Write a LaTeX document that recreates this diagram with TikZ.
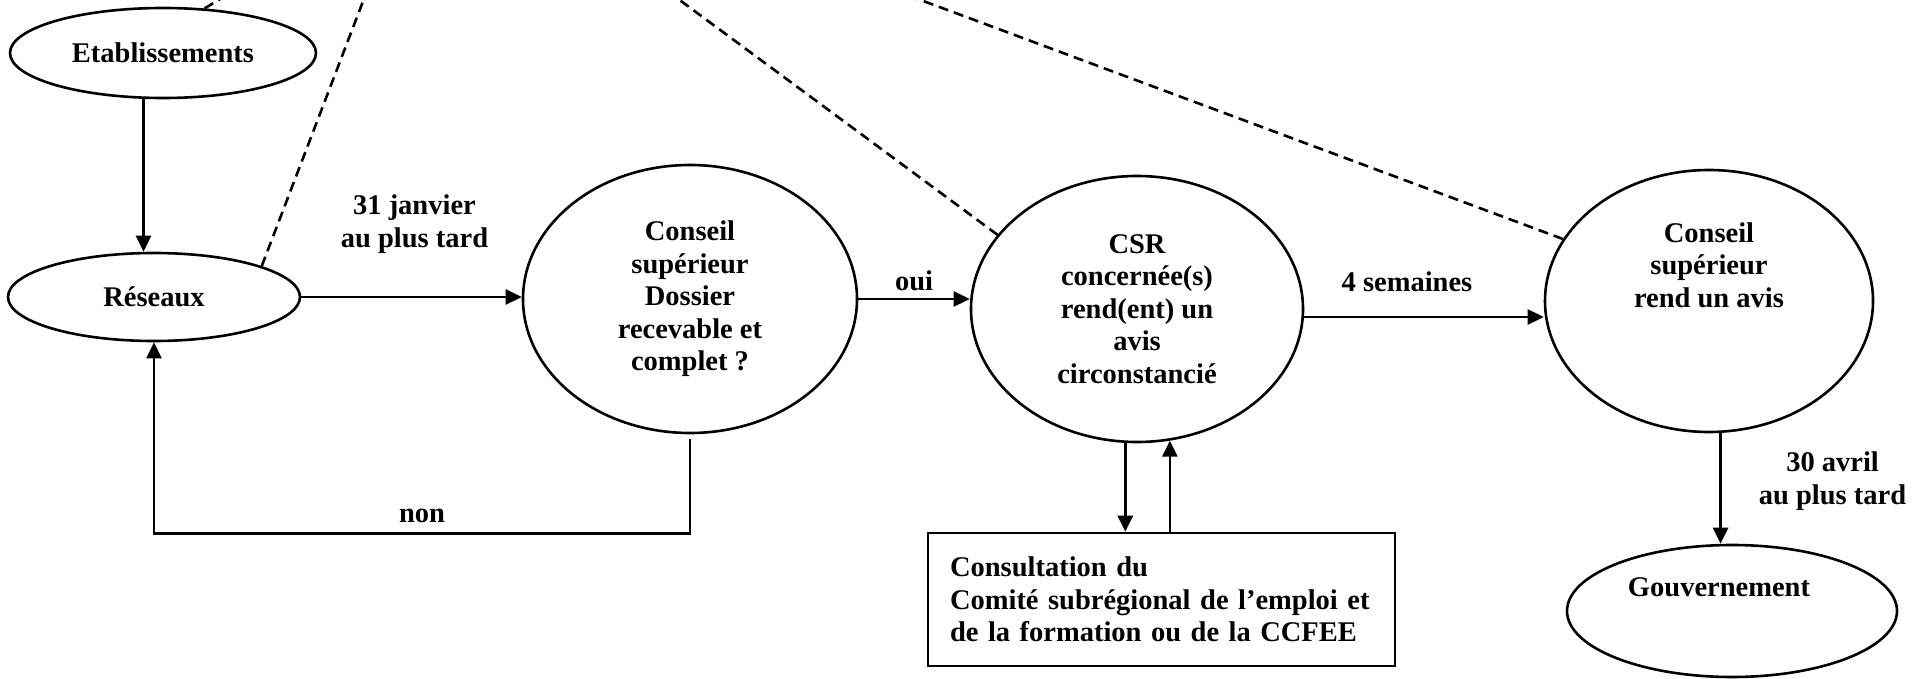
\documentclass[tikz,border=0pt]{standalone}
\usepackage{fontspec}
\setmainfont{Liberation Serif}
\usetikzlibrary{shapes.geometric, arrows.meta, positioning}

\begin{document}
\begin{tikzpicture}[x=1pt, y=-1pt, on grid,
    every node/.style={font=\fontsize{28.5pt}{32.5pt}\selectfont\bfseries},
    oval/.style={ellipse, draw, line width=2.6pt, inner sep=0pt, align=center},
    lbl/.style={align=center, inner sep=0pt},
    arr/.style={line width=2.6pt, -{Triangle[length=16pt, width=15pt]}},
    dline/.style={line width=2.6pt, dash pattern=on 10pt off 6pt}]
  \useasboundingbox (0,0) rectangle (1919,679);
  \clip (0,0) rectangle (1919,679);

  % the ellipses
  \node[oval, minimum width=306pt, minimum height=90pt] (etab) at (163,53) {Etablissements};
  \node[oval, minimum width=292pt, minimum height=88pt, below=244pt of etab, xshift=-9pt] (reseaux) {Réseaux};
  \node[oval, minimum width=334pt, minimum height=268pt, right=536pt of reseaux, yshift=-2pt] (dossier)
    {Conseil\\supérieur\\Dossier\\recevable et\\complet ?};
  \node[oval, minimum width=332pt, minimum height=266pt, right=447pt of dossier, yshift=-10pt] (csr)
    {CSR\\concernée(s)\\rend(ent) un\\avis\\circonstancié};
  \node[oval, minimum width=328pt, minimum height=262pt, right=572pt of csr, yshift=8pt] (avis) {};
  \node[lbl] (avistxt) at ([yshift=36pt]avis.center) {Conseil\\supérieur\\rend un avis};
  \node[oval, minimum width=330pt, minimum height=132pt, below=310pt of avis, xshift=23pt] (gouv) {};
  \node[lbl] (gouvtxt) at ([xshift=-13pt, yshift=24pt]gouv.center) {Gouvernement};
  \node[draw, line width=2.6pt, rectangle, inner xsep=22pt, inner ysep=0pt, text width=423pt,
    minimum height=133pt, align=left, below=290.5pt of csr, xshift=24.5pt] (consult)
    {Consultation du\\Comité subrégional de l’emploi et\\de la formation ou de la CCFEE};

  % arrows
  \draw[arr] (etab.-113) -- (reseaux.north -| etab.-113);
  \draw[arr] (reseaux.east) -- node[lbl, xshift=3pt, yshift=73pt] {31 janvier\\au plus tard} (reseaux.east -| dossier.west);
  \coordinate (nonA) at ([yshift=-5pt]dossier.south);
  \draw[arr] (nonA) -- ++(0,94) -| node[lbl, pos=0.25, yshift=17pt] {non} (reseaux.south);
  \draw[arr] (dossier.east) -- node[lbl, yshift=18pt] {oui} (dossier.east -| csr.west);
  \coordinate (semA) at ([yshift=-8pt]csr.east);
  \draw[arr] (semA) -- node[lbl, xshift=-17pt, yshift=35pt] {4 semaines} (semA -| avis.west);
  \draw[arr] (avis.-85) -- node[lbl, xshift=112pt, yshift=7pt] {30 avril\\au plus tard} (gouv.north -| avis.-85);
  \draw[arr] (csr.-95) -- (consult.north -| csr.-95);
  \draw[arr] (consult.north -| csr.-76) -- (csr.-76);

  % dashed lines to the top
  \coordinate (topA) at (375,-30);
  \coordinate (topB) at (260,-25);
  \coordinate (topC) at (639,-30);
  \coordinate (topD) at (840,-30);
  \draw[dline] (reseaux.16) -- (topA);
  \draw[dline] (etab.47) -- (topB);
  \draw[dline] (csr.152) -- (topC);
  \draw[dline] (avis.157) -- (topD);
\end{tikzpicture}
\end{document}
